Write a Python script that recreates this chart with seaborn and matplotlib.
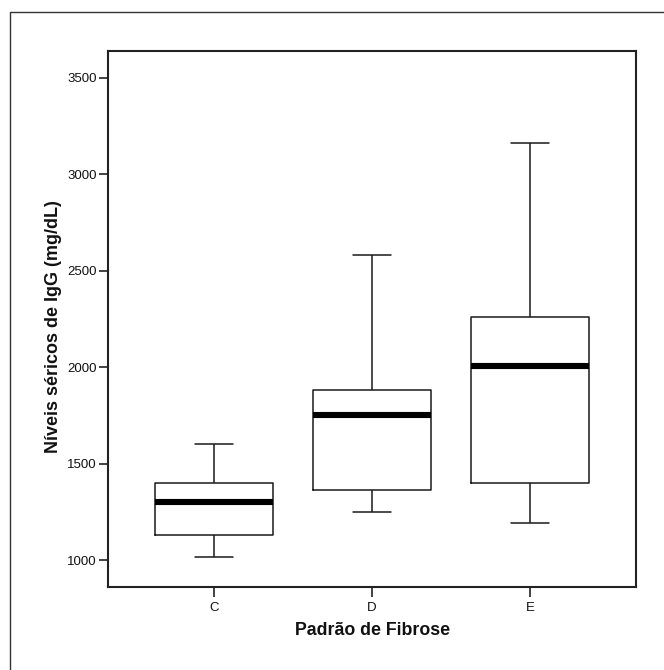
import pandas as pd
import matplotlib.pyplot as plt
import matplotlib.patches as mpatches
import seaborn as sns

# valores (mg/dL)
padroes = ['C', 'D', 'E']
minimo = [1015, 1250, 1190]
q1 = [1130, 1365, 1400]
mediana = [1300, 1750, 2005]
q3 = [1400, 1880, 2260]
maximo = [1600, 2580, 3160]

# cinco pontos por grupo -> quartis exatos com whis=(0, 100)
linhas = []
for i, p in enumerate(padroes):
    for v in [minimo[i], q1[i], mediana[i], q3[i], maximo[i]]:
        linhas.append({'padrao': p, 'igg': v})
df = pd.DataFrame(linhas)

sns.set_theme(style="white")
plt.rcParams['font.family'] = ['Liberation Sans', 'DejaVu Sans']
plt.rcParams['text.color'] = '#111111'
plt.rcParams['axes.labelcolor'] = '#111111'
plt.rcParams['xtick.labelcolor'] = '#111111'
plt.rcParams['ytick.labelcolor'] = '#111111'

fig = plt.figure(figsize=(6.64, 6.70), dpi=100)
ax = fig.add_axes([0.1631, 0.1243, 0.7947, 0.7996])

linha = dict(color='#1a1a1a', linewidth=1.1)
sns.boxplot(x='padrao', y='igg', data=df, order=padroes, whis=(0, 100),
            width=0.75, fill=False, color='#1a1a1a', linewidth=1.1,
            boxprops=linha, whiskerprops=linha, capprops=linha,
            medianprops=dict(color='black', linewidth=4.4),
            capwidths=0.24, showfliers=False, ax=ax)

ax.set_xlim(-0.67, 2.67)
ax.set_ylim(862, 3638)
ax.set_yticks([1000, 1500, 2000, 2500, 3000, 3500])

for s in ax.spines.values():
    s.set_visible(True)
    s.set_color('#222222')
    s.set_linewidth(1.5)

ax.tick_params(axis='y', which='major', left=True, length=6.5, width=1.2,
               color='#222222', labelcolor='#111111', labelsize=9.5, pad=2)
ax.tick_params(axis='x', which='major', bottom=True, length=7, width=1.2,
               color='#222222', labelcolor='#111111', labelsize=9.5, pad=4)

ax.set_xlabel('Padrão de Fibrose', fontsize=12.8, fontweight='bold', labelpad=6,
              color='#111111')
ax.set_ylabel('Níveis séricos de IgG (mg/dL)', fontsize=13, fontweight='bold',
              color='#111111')
ax.yaxis.set_label_coords(-0.088, 0.485)

# moldura externa da figura
fig.patches.append(mpatches.Rectangle((10 / 664, -0.05), 1.2, 1 - 12 / 670 + 0.05,
                                      transform=fig.transFigure, fill=False,
                                      edgecolor='#333333', linewidth=1.0))

fig.savefig('out.png', dpi=100, facecolor='white')
